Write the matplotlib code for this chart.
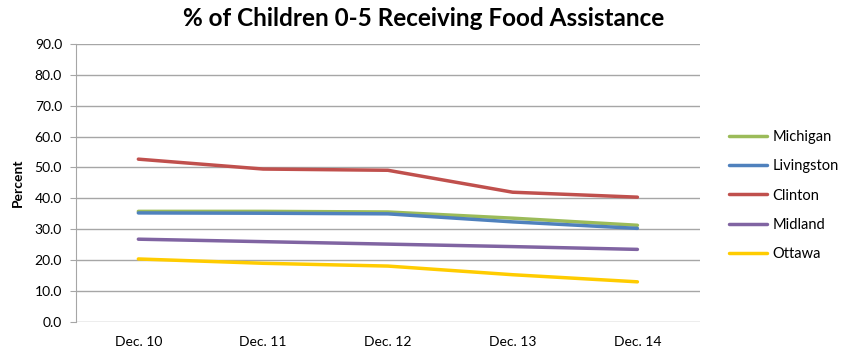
import matplotlib.pyplot as plt

plt.rcParams['font.family'] = ['Lato', 'DejaVu Sans']

# datos
meses = ['Dec. 10', 'Dec. 11', 'Dec. 12', 'Dec. 13', 'Dec. 14']
michigan = [35.8, 35.8, 35.6, 33.6, 31.3]
livingston = [35.3, 35.2, 35.0, 32.4, 30.3]
clinton = [52.7, 49.5, 49.1, 42.0, 40.4]
midland = [26.8, 26.0, 25.2, 24.4, 23.5]
ottawa = [20.4, 19.0, 18.1, 15.3, 13.0]

series = [('Michigan', michigan, '#9BBB59'),
          ('Livingston', livingston, '#4F81BD'),
          ('Clinton', clinton, '#C0504D'),
          ('Midland', midland, '#8064A2'),
          ('Ottawa', ottawa, '#FFCC00')]

fig = plt.figure(figsize=(8.47, 3.54), dpi=100)
ax = fig.add_axes([0.0897, 0.0904, 0.7365, 0.7856])

x = range(len(meses))
for nombre, vals, col in series:
  ax.plot(x, vals, color=col, lw=2.5, label=nombre, solid_capstyle='round')

ax.set_xlim(-0.5, len(meses) - 0.5)
ax.set_ylim(0, 90)
ax.set_yticks(range(0, 91, 10))
ax.set_yticklabels(['%.1f' % v for v in range(0, 91, 10)], fontsize=10)
ax.set_xticks(list(x))
ax.set_xticklabels(meses, fontsize=10)
ax.yaxis.grid(True, color='#A6A6A6', lw=1)
ax.set_axisbelow(True)
for s in ['top', 'right', 'bottom']:
  ax.spines[s].set_visible(False)
ax.spines['left'].set_color('#A6A6A6')
ax.tick_params(axis='y', length=4, color='#A6A6A6', pad=6)
ax.tick_params(axis='x', length=0, pad=10)
ax.set_ylabel('Percent', fontsize=10, fontweight='bold', labelpad=8)

fig.text(0.5, 0.947, '% of Children 0-5 Receiving Food Assistance',
         ha='center', va='center', fontsize=17.5, fontweight='bold')

fig.legend(loc='upper left', bbox_to_anchor=(0.845, 0.67), frameon=False,
           fontsize=10.5, handlelength=2.6, labelspacing=1.05, handletextpad=0.4)

plt.savefig('out.png', dpi=100)
